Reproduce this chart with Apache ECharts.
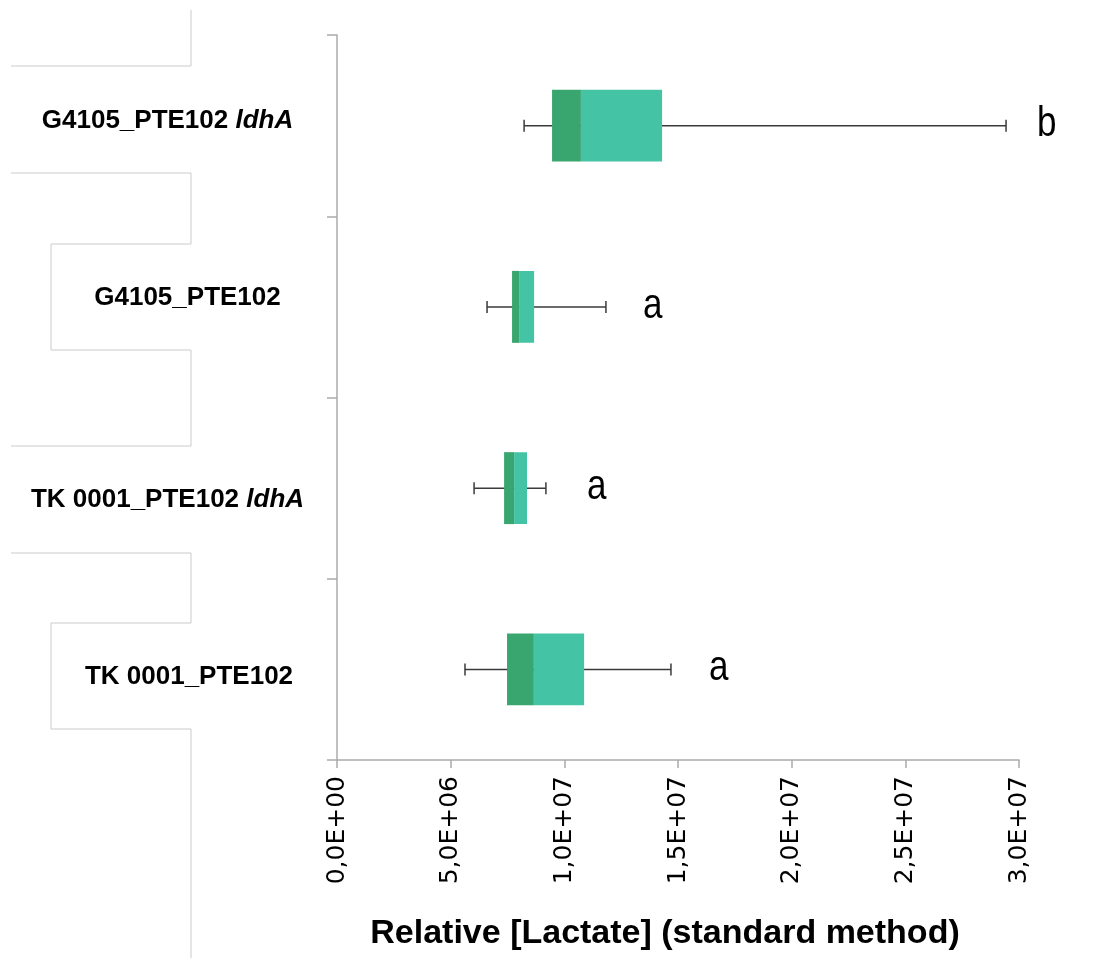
<!DOCTYPE html>
<html>
<head>
<meta charset="utf-8">
<title>Relative [Lactate]</title>
<script src="https://cdn.jsdelivr.net/npm/echarts@6/dist/echarts.min.js"></script>
<style>
  html, body { margin: 0; padding: 0; background: #ffffff; }
  #chart { width: 1117px; height: 958px; }
</style>
</head>
<body>
<div id="chart"></div>
<script>
// Strains, top to bottom
const categories = ['G4105_PTE102 ldhA', 'G4105_PTE102', 'TK 0001_PTE102 ldhA', 'TK 0001_PTE102'];
// Five-number summaries of relative lactate
const whiskerMin = [8.23e6, 6.60e6, 6.03e6, 5.63e6];
const quartile1  = [9.46e6, 7.70e6, 7.35e6, 7.48e6];
const medians    = [10.73e6, 8.01e6, 7.79e6, 8.66e6];
const quartile3  = [14.30e6, 8.67e6, 8.36e6, 10.87e6];
const whiskerMax = [29.43e6, 11.83e6, 9.19e6, 14.69e6];
// Statistical group letters
const groupLetters = ['b', 'a', 'a', 'a'];
// X tick labels (0 to 3e7 every 5e6)
const xTickLabels = ['0,0E+00', '5,0E+06', '1,0E+07', '1,5E+07', '2,0E+07', '2,5E+07', '3,0E+07'];
const xStep = 5e6;

// Small per-row nudges of the strain labels [dx, dy] and of the group letters
const labelNudge = [[-9.5, -4.5], [10.5, -9], [-9.5, 12], [12, 7]];
const letterGap = [31, 37, 41, 38];

const SANS = '"Liberation Sans", Arial, Helvetica, sans-serif';
const DARK = '#3AA66F';
const LIGHT = '#45C3A5';
const AXIS = '#ababab';

const rows = categories.map((c, i) => [i, whiskerMin[i], quartile1[i], medians[i], quartile3[i], whiskerMax[i]]);

const chart = echarts.init(document.getElementById('chart'), null, { renderer: 'canvas' });

function renderBox(params, api) {
  const cat = api.value(0);
  const y = api.coord([0, cat])[1];
  const band = api.size([0, 1])[1];
  const h = band * 0.397;
  const px = k => api.coord([api.value(k), cat])[0];
  const xMin = px(1), xQ1 = px(2), xMed = px(3), xQ3 = px(4), xMax = px(5);
  const cap = 12;
  const ws = { stroke: '#3a3a3a', lineWidth: 1.5 };
  return {
    type: 'group',
    children: [
      { type: 'line', shape: { x1: xMin, y1: y, x2: xMax, y2: y }, style: ws },
      { type: 'line', shape: { x1: xMin, y1: y - cap / 2, x2: xMin, y2: y + cap / 2 }, style: ws },
      { type: 'line', shape: { x1: xMax, y1: y - cap / 2, x2: xMax, y2: y + cap / 2 }, style: ws },
      { type: 'rect', shape: { x: xQ1, y: y - h / 2, width: xMed - xQ1, height: h }, style: { fill: DARK } },
      { type: 'rect', shape: { x: xMed, y: y - h / 2, width: xQ3 - xMed, height: h }, style: { fill: LIGHT } },
      {
        type: 'text', x: xMax + letterGap[params.dataIndex], y: y - 1, scaleY: 1.22,
        style: {
          text: groupLetters[params.dataIndex],
          fontFamily: SANS, fontSize: 35, fill: '#000',
          align: 'left', verticalAlign: 'middle'
        }
      }
    ]
  };
}

const decoStyle = { stroke: '#cbcbcb', lineWidth: 1, fill: null };

chart.setOption({
  animation: false,
  backgroundColor: '#ffffff',
  grid: { left: 337, right: 98, top: 35, bottom: 198, containLabel: false },
  xAxis: {
    type: 'value',
    min: 0,
    max: 3e7,
    interval: xStep,
    axisLine: { show: true, lineStyle: { color: AXIS, width: 1.5 } },
    axisTick: { show: true, length: 8, lineStyle: { color: AXIS, width: 1.5 } },
    splitLine: { show: false },
    axisLabel: {
      rotate: 90,
      margin: 16,
      color: '#000',
      fontFamily: '"DejaVu Sans", sans-serif',
      fontSize: 25,
      formatter: v => xTickLabels[Math.round(v / xStep)]
    },
    name: 'Relative [Lactate] (standard method)',
    nameLocation: 'middle',
    nameGap: 157,
    nameTextStyle: { fontFamily: SANS, fontWeight: 'bold', fontSize: 34, color: '#000', padding: [0, 26, 0, 0] }
  },
  yAxis: {
    type: 'category',
    inverse: true,
    data: categories,
    axisLine: { show: true, lineStyle: { color: AXIS, width: 1.5 } },
    axisTick: { show: true, length: 10, lineStyle: { color: AXIS, width: 1.5 } },
    axisLabel: { show: false },
    splitLine: { show: false }
  },
  graphic: [
    { type: 'polyline', silent: true, shape: { points: [[191, 10], [191, 66], [11, 66]] }, style: decoStyle },
    { type: 'polyline', silent: true, shape: { points: [[11, 173], [191, 173], [191, 244], [51, 244], [51, 350], [191, 350], [191, 446], [11, 446]] }, style: decoStyle },
    { type: 'polyline', silent: true, shape: { points: [[11, 553], [191, 553], [191, 623], [51, 623], [51, 729], [191, 729], [191, 958]] }, style: decoStyle }
  ],
  series: [{
    type: 'custom',
    renderItem: renderBox,
    encode: { x: [1, 2, 3, 4, 5], y: 0 },
    data: rows,
    z: 3
  }]
});

// Strain labels, with the gene name in italics
const labelRich = {
  n: { fontFamily: SANS, fontWeight: 'bold', fontSize: 26, fill: '#000' },
  i: { fontFamily: SANS, fontWeight: 'bold', fontStyle: 'italic', fontSize: 26, fill: '#000' }
};
const labelGraphics = categories.map((name, i) => {
  const y = chart.convertToPixel({ yAxisIndex: 0 }, i);
  const m = name.match(/^(.*?)( ldhA)$/);
  const text = m ? '{n|' + m[1] + ' }{i|ldhA}' : '{n|' + name + '}';
  return {
    type: 'text',
    id: 'strain' + i,
    x: 177 + labelNudge[i][0],
    y: y + labelNudge[i][1],
    style: { text: text, rich: labelRich, align: 'center', verticalAlign: 'middle' }
  };
});
chart.setOption({ graphic: labelGraphics });
</script>
</body>
</html>
